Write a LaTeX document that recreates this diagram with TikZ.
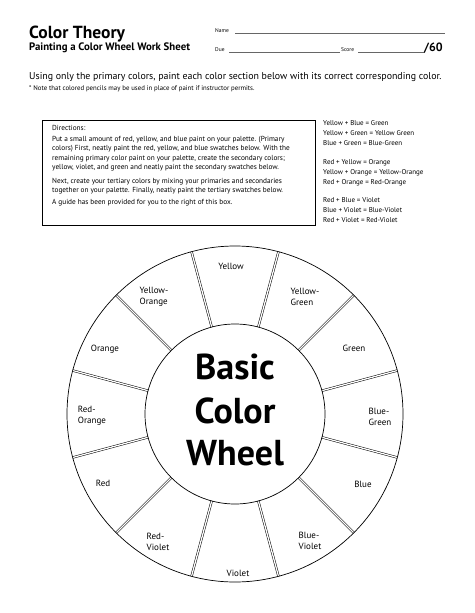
\documentclass[tikz,border=0pt]{standalone}
\usepackage{fontspec}
\setmainfont{PT Sans}
\begin{document}
\begin{tikzpicture}[x=1pt,y=-1pt,
  ln/.style={inner sep=0pt,anchor=base west},
  dirtext/.style={ln,font=\fontsize{7.3}{9}\selectfont},
  guide/.style={ln,font=\fontsize{7}{9}\selectfont},
  wlabel/.style={inner sep=0pt,align=left,font=\fontsize{9}{11}\selectfont},
  divider/.style={draw=black,line width=0.5pt,double=white,double distance=1.3pt},
  rule/.style={draw=black!60,line width=0.4pt}]
\useasboundingbox (0,0) rectangle (474,613);
\fill[white] (0,0) rectangle (474,613);
% header
\node[ln,font=\bfseries\fontsize{17.5}{20}\selectfont] (title) at (29,38) {Color Theory};
\node[ln,font=\bfseries\fontsize{10.8}{12}\selectfont] (subtitle) at (29,50) {Painting a Color Wheel Work Sheet};
\node[ln,font=\fontsize{5.5}{7}\selectfont] (name) at (215,32) {Name};
\coordinate (nameA) at (235,33); \coordinate (nameB) at (445,33);
\draw[rule] (nameA) -- (nameB);
\node[ln,font=\fontsize{5.5}{7}\selectfont] (due) at (215,51) {Due};
\coordinate (dueA) at (229,52); \coordinate (dueB) at (340,52);
\draw[rule] (dueA) -- (dueB);
\node[ln,font=\fontsize{5.5}{7}\selectfont] (score) at (341,51) {Score};
\coordinate (scoreA) at (358,52); \coordinate (scoreB) at (425,52);
\draw[rule] (scoreA) -- (scoreB);
\node[ln,font=\bfseries\fontsize{12}{14}\selectfont] (sixty) at (424,51) {/60};
\node[ln,font=\fontsize{9.9}{11}\selectfont] (instr) at (29,79) {Using only the primary colors, paint each color section below with its correct corresponding color.};
\node[ln,font=\fontsize{6.8}{8}\selectfont] (note) at (29,90) {* Note that colored pencils may be used in place of paint if instructor permits.};
% directions box
\draw[line width=0.7pt] (42,120) rectangle (315,225);
\node[dirtext] (d0) at (52,130) {Directions:};
\node[dirtext] (d1) at (52,141) {Put a small amount of red, yellow, and blue paint on your palette. (Primary};
\node[dirtext] (d2) at (52,150.5) {colors) First, neatly paint the red, yellow, and blue swatches below. With the};
\node[dirtext] (d3) at (52,160) {remaining primary color paint on your palette, create the secondary colors;};
\node[dirtext] (d4) at (52,169.5) {yellow, violet, and green and neatly paint the secondary swatches below.};
\node[dirtext] (d5) at (52,183) {Next, create your tertiary colors by mixing your primaries and secondaries};
\node[dirtext] (d6) at (52,192.5) {together on your palette. Finally, neatly paint the tertiary swatches below.};
\node[dirtext] (d7) at (52,204) {A guide has been provided for you to the right of this box.};
% guide
\node[guide] (g1) at (323,125) {Yellow + Blue = Green};
\node[guide] (g2) at (323,135) {Yellow + Green = Yellow Green};
\node[guide] (g3) at (323,145) {Blue + Green = Blue-Green};
\node[guide] (g4) at (323,164) {Red + Yellow = Orange};
\node[guide] (g5) at (323,174) {Yellow + Orange = Yellow-Orange};
\node[guide] (g6) at (323,184) {Red + Orange = Red-Orange};
\node[guide] (g7) at (323,202) {Red + Blue = Violet};
\node[guide] (g8) at (323,212) {Blue + Violet = Blue-Violet};
\node[guide] (g9) at (323,222) {Red + Violet = Red-Violet};
% wheel
\begin{scope}[shift={(235,414)},yscale=-1]
  \foreach \a in {15,45,...,345} {
    \draw[divider] (\a:90) -- (\a:168);
  }
  \draw[line width=0.7pt] (0,0) circle[radius=168];
  \draw[line width=0.7pt] (0,0) circle[radius=90];
\end{scope}
\node[wlabel] (yellow) at (231,266) {Yellow};
\node[wlabel] (yg) at (305,297) {Yellow-\\Green};
\node[wlabel] (green) at (354,348) {Green};
\node[wlabel] (bg) at (380,417) {Blue-\\Green};
\node[wlabel] (blue) at (363,484) {Blue};
\node[wlabel] (bv) at (310,541) {Blue-\\Violet};
\node[wlabel] (violet) at (238,573) {Violet};
\node[wlabel] (rv) at (158,542) {Red-\\Violet};
\node[wlabel] (red) at (103,483) {Red};
\node[wlabel] (ro) at (92,416) {Red-\\Orange};
\node[wlabel] (orange) at (105,349) {Orange};
\node[wlabel] (yo) at (154,297) {Yellow-\\Orange};
% center text
\node[inner sep=0pt,anchor=base,font=\bfseries\fontsize{36}{40}\selectfont] (basic) at (235,379) {Basic};
\node[inner sep=0pt,anchor=base,font=\bfseries\fontsize{36}{40}\selectfont] (color) at (235,423) {Color};
\node[inner sep=0pt,anchor=base,font=\bfseries\fontsize{36}{40}\selectfont] (wheel) at (235,465) {Wheel};
\end{tikzpicture}
\end{document}
